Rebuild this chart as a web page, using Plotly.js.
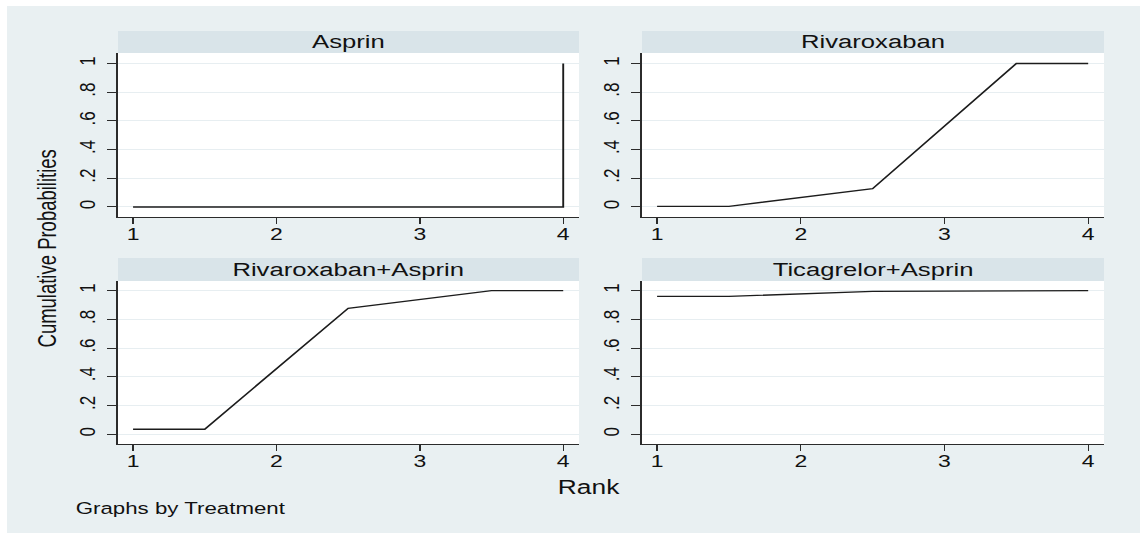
<!DOCTYPE html>
<html>
<head>
<meta charset="utf-8">
<script src="https://cdn.plot.ly/plotly-3.0.1.min.js"></script>
<style>
  html, body { margin: 0; padding: 0; background: #ffffff; overflow: hidden; }
  #wrap { width: 1140px; height: 534px; position: relative; overflow: hidden; }
  #plot { width: 844px; height: 534px; transform: scaleX(1.3507); transform-origin: 0 0; }
</style>
</head>
<body>
<div id="wrap"><div id="plot"></div></div>
<script>
// ---- data ----
const panelTitles = ["Asprin", "Rivaroxaban", "Rivaroxaban+Asprin", "Ticagrelor+Asprin"];

const asprinRank = [1, 1.5, 2.5, 3.5, 4, 4];
const asprinCum  = [0, 0, 0, 0, 0, 1];

const rivaRank = [1, 1.5, 2.5, 3.5, 4];
const rivaCum  = [0.004, 0.004, 0.128, 1, 1];

const rivaAspRank = [1, 1.5, 2.5, 3.5, 4];
const rivaAspCum  = [0.035, 0.035, 0.877, 1, 1];

const ticaAspRank = [1, 1.5, 2.5, 3.5, 4];
const ticaAspCum  = [0.96, 0.96, 0.995, 1, 1];

const xTickVals = [1, 2, 3, 4];
const xTickText = ["1", "2", "3", "4"];
const yTickVals = [0, 0.2, 0.4, 0.6, 0.8, 1];
const yTickText = ["0", ".2", ".4", ".6", ".8", "1"];

const yTitle = "Cumulative Probabilities";
const xTitle = "Rank";
const noteText = "Graphs by Treatment";

// ---- layout geometry (paper fractions) ----
const W = 1140, H = 534;
const colDom = [[118 / W, 579 / W], [642 / W, 1104 / W]];
const rowDom = [[1 - 217 / H, 1 - 53 / H], [1 - 444 / H, 1 - 281 / H]];
const stripDom = [[1 - 53 / H, 1 - 31 / H], [1 - 281 / H, 1 - 258 / H]];
const yRanges = [[-0.07, 1.073], [-0.068, 1.067]];

const FONT = "Liberation Sans, Arial, Helvetica, sans-serif";
const LINE = "#2b2b2b";
const TXT = "#111111";

const series = [
  [asprinRank, asprinCum],
  [rivaRank, rivaCum],
  [rivaAspRank, rivaAspCum],
  [ticaAspRank, ticaAspCum]
];

const traces = [];
const layout = {
  width: 844, height: 534,
  margin: {l: 0, r: 0, t: 0, b: 0, pad: 0},
  paper_bgcolor: "#ffffff",
  plot_bgcolor: "rgba(0,0,0,0)",
  showlegend: false,
  font: {family: FONT, color: TXT},
  shapes: [],
  annotations: []
};

// outer light background
layout.shapes.push({type: "rect", xref: "paper", yref: "paper", layer: "below",
  x0: 7 / W, x1: 1, y0: 1 - 533 / H, y1: 1 - 6 / H,
  fillcolor: "#e9f0f2", line: {width: 0}});

for (let i = 0; i < 4; i++) {
  const r = Math.floor(i / 2), c = i % 2;
  const n = i + 1;
  const xa = "xaxis" + (n === 1 ? "" : n);
  const ya = "yaxis" + (n === 1 ? "" : n);
  const xs = "x" + (n === 1 ? "" : n);
  const ys = "y" + (n === 1 ? "" : n);

  traces.push({
    x: series[i][0], y: series[i][1], xaxis: xs, yaxis: ys,
    type: "scatter", mode: "lines",
    line: {color: "#1c1c1c", width: 1.4},
    hoverinfo: "skip"
  });

  layout[xa] = {
    domain: colDom[c], anchor: ys, range: [0.895, 4.11],
    tickmode: "array", tickvals: xTickVals, ticktext: xTickText,
    ticks: "outside", ticklen: 6, tickwidth: 1, tickcolor: LINE,
    showline: true, linecolor: LINE, linewidth: 1.2,
    showgrid: false, zeroline: false, ticklabelstandoff: -5,
    tickfont: {family: FONT, size: 17, color: TXT},
    fixedrange: true
  };
  layout[ya] = {
    domain: rowDom[r], anchor: xs, range: yRanges[r],
    tickmode: "array", tickvals: yTickVals, ticktext: yTickText,
    ticks: "outside", ticklen: 7, tickwidth: 1, tickcolor: LINE,
    showline: true, linecolor: LINE, linewidth: 1.2,
    showgrid: true, gridcolor: "#e7eef1", gridwidth: 1,
    zeroline: false, tickangle: -90, ticklabelstandoff: 2,
    tickfont: {family: FONT, size: 17, color: TXT},
    fixedrange: true
  };

  // white plot region
  layout.shapes.push({type: "rect", xref: "paper", yref: "paper", layer: "below",
    x0: colDom[c][0], x1: colDom[c][1], y0: rowDom[r][0], y1: rowDom[r][1],
    fillcolor: "#ffffff", line: {width: 0}});
  // strip
  layout.shapes.push({type: "rect", xref: "paper", yref: "paper", layer: "below",
    x0: colDom[c][0], x1: colDom[c][1], y0: stripDom[r][0], y1: stripDom[r][1],
    fillcolor: "#d9e4e9", line: {width: 0}});
  layout.annotations.push({
    xref: "paper", yref: "paper",
    x: (colDom[c][0] + colDom[c][1]) / 2, y: (stripDom[r][0] + stripDom[r][1]) / 2,
    xanchor: "center", yanchor: "middle", showarrow: false,
    text: panelTitles[i], font: {family: FONT, size: 19, color: TXT}
  });
}

layout.annotations.push({
  xref: "paper", yref: "paper", x: 48 / W, y: 1 - 249 / H,
  xanchor: "center", yanchor: "middle", showarrow: false, textangle: -90,
  text: yTitle, font: {family: FONT, size: 18.5, color: TXT}
});
layout.annotations.push({
  xref: "paper", yref: "paper", x: 589 / W, y: 1 - 487 / H,
  xanchor: "center", yanchor: "middle", showarrow: false,
  text: xTitle, font: {family: FONT, size: 19.5, color: TXT}
});
layout.annotations.push({
  xref: "paper", yref: "paper", x: 73 / W, y: 1 - 507.5 / H,
  xanchor: "left", yanchor: "middle", showarrow: false,
  text: noteText, font: {family: FONT, size: 16.5, color: TXT}
});

Plotly.newPlot("plot", traces, layout, {displayModeBar: false, staticPlot: true});
</script>
</body>
</html>
